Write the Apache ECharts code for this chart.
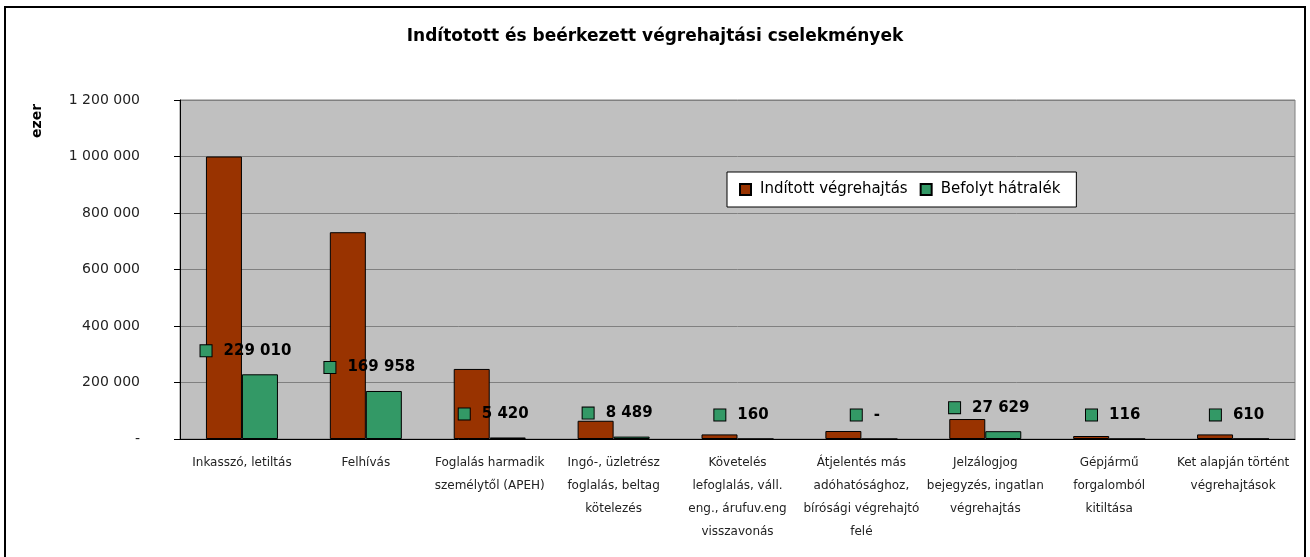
<!DOCTYPE html>
<html>
<head>
<meta charset="utf-8">
<script src="https://cdn.jsdelivr.net/npm/echarts@6/dist/echarts.min.js"></script>
<style>
  html, body { margin: 0; padding: 0; background: #fff; }
  #chart { width: 1310px; height: 557px; }
</style>
</head>
<body>
<div id="chart"></div>
<script>
var categories = [
  'Inkasszó, letiltás',
  'Felhívás',
  'Foglalás harmadik\nszemélytől (APEH)',
  'Ingó-, üzletrész\nfoglalás, beltag\nkötelezés',
  'Követelés\nlefoglalás, váll.\neng., árufuv.eng\nvisszavonás',
  'Átjelentés más\nadóhatósághoz,\nbírósági végrehajtó\nfelé',
  'Jelzálogjog\nbejegyzés, ingatlan\nvégrehajtás',
  'Gépjármű\nforgalomból\nkitiltása',
  'Ket alapján történt\nvégrehajtások'
]
var inditott = [1000000, 732000, 248000, 64500, 16300, 28300, 70700, 10600, 16300]
var befolyt = [229010, 169958, 5420, 8489, 160, 0, 27629, 116, 610]
var seriesNames = ['Indított végrehajtás', 'Befolyt hátralék']

var fmt = function (v) {
  if (!v) return '-'
  return String(v).replace(/\B(?=(\d{3})+(?!\d))/g, ' ')
}

var font = 'DejaVu Sans'

var option = {
  animation: false,
  textStyle: {fontFamily: font},
  title: {
    text: 'Indítotott és beérkezett végrehajtási cselekmények',
    left: 'center',
    top: 23,
    textStyle: {fontFamily: font, fontSize: 17, fontWeight: 'bold', color: '#000'}
  },
  graphic: [
    {
      type: 'rect',
      shape: {x: 5, y: 7, width: 1300, height: 560},
      style: {fill: 'none', stroke: '#000', lineWidth: 2},
      silent: true
    },
    {
      type: 'text',
      x: 30,
      y: 138,
      rotation: Math.PI / 2,
      style: {text: 'ezer', font: 'bold 14px "DejaVu Sans"', fill: '#000'},
      silent: true
    }
  ],
  legend: {
    left: 727,
    top: 172,
    padding: [10, 16, 10, 12],
    itemWidth: 11,
    itemHeight: 11,
    itemGap: 12,
    backgroundColor: '#fff',
    borderColor: '#000',
    borderWidth: 1,
    icon: 'rect',
    selectedMode: false,
    textStyle: {fontFamily: font, fontSize: 15, color: '#000', padding: [0, 0, 0, 4]},
    data: seriesNames
  },
  grid: {
    left: 180,
    right: 15,
    top: 100,
    bottom: 118,
    show: true,
    backgroundColor: '#c0c0c0',
    borderColor: '#808080',
    borderWidth: 1
  },
  xAxis: {
    type: 'category',
    data: categories,
    axisLine: {lineStyle: {color: '#000', width: 1}},
    axisTick: {length: 6, lineStyle: {color: '#000'}},
    axisLabel: {
      interval: 0,
      margin: 12,
      fontSize: 12,
      lineHeight: 23,
      color: '#222',
      fontFamily: font
    }
  },
  yAxis: {
    type: 'value',
    min: 0,
    max: 1200000,
    interval: 200000,
    axisLine: {show: true, lineStyle: {color: '#000', width: 1}},
    axisTick: {show: true, length: 6, lineStyle: {color: '#000'}},
    splitLine: {lineStyle: {color: '#808080', width: 1}},
    axisLabel: {
      margin: 40,
      fontSize: 14,
      color: '#222',
      fontFamily: font,
      formatter: fmt
    }
  },
  series: [
    {
      name: seriesNames[0],
      type: 'bar',
      data: inditott,
      barWidth: 36,
      barGap: '0%',
      itemStyle: {color: '#993300', borderColor: '#000', borderWidth: 1}
    },
    {
      name: seriesNames[1],
      type: 'bar',
      data: befolyt,
      barWidth: 36,
      itemStyle: {color: '#339966', borderColor: '#000', borderWidth: 1},
      label: {
        show: true,
        position: 'top',
        distance: 16,
        offset: [-14, 0],
        formatter: function (p) { return '{sq| }{v|' + fmt(p.value) + '}' },
        rich: {
          sq: {width: 11, height: 11, backgroundColor: '#339966', borderColor: '#000', borderWidth: 1},
          v: {fontFamily: font, fontSize: 15, fontWeight: 'bold', color: '#000', padding: [0, 0, 0, 12]}
        }
      }
    }
  ]
}

echarts.init(document.getElementById('chart')).setOption(option)
</script>
</body>
</html>
